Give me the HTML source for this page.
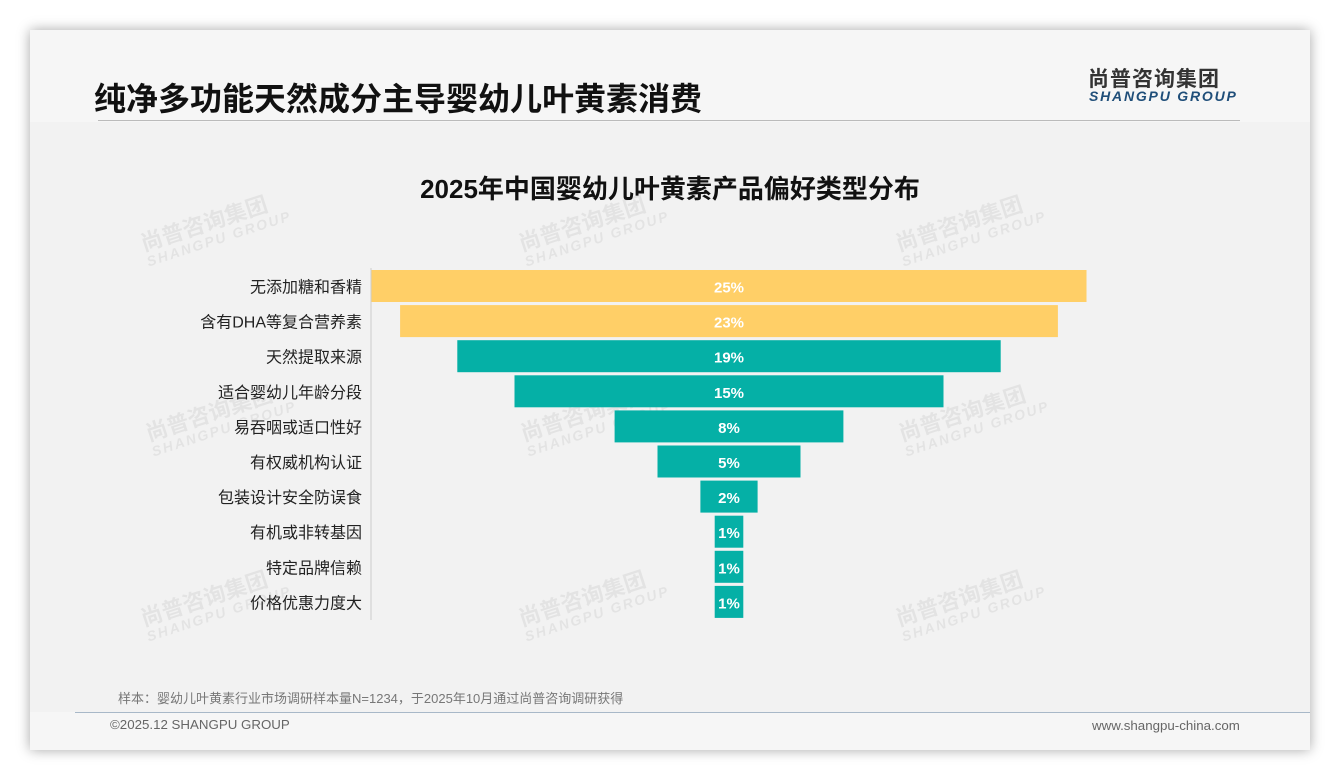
<!DOCTYPE html>
<html><head><meta charset="utf-8"><style>
body{margin:0;width:1340px;height:780px;background:#fff;overflow:hidden;font-family:"Liberation Sans","Noto Sans CJK SC",sans-serif;}
#card{position:absolute;left:30px;top:30px;width:1280px;height:720px;background:#f6f6f6;box-shadow:0 0 12px rgba(0,0,0,0.35);}
#inner{position:absolute;left:0;top:92px;width:1280px;height:590px;background:#f2f2f2;}
.t{position:absolute;white-space:nowrap;}
.wm{position:absolute;color:rgba(0,0,0,0.06);font-weight:bold;transform:rotate(-18deg);line-height:1;}
</style></head><body>
<div id="card">
<div id="inner"></div>
<div class="t" style="left:64px;top:44px;font-size:32px;font-weight:bold;color:#111;">纯净多功能天然成分主导婴幼儿叶黄素消费</div>
<div style="position:absolute;left:68px;top:90px;width:1142px;height:1px;background:#bbb;"></div>
<div class="t" style="left:1058px;top:33px;font-size:21px;font-weight:bold;color:#333;letter-spacing:1px;">尚普咨询集团</div>
<div class="t" style="left:1059px;top:58px;font-size:14px;font-weight:bold;font-style:italic;color:#1f4e79;letter-spacing:1.8px;">SHANGPU GROUP</div>
<div class="t" style="left:-30px;width:1340px;text-align:center;top:139px;font-size:26px;font-weight:bold;color:#111;">2025年中国婴幼儿叶黄素产品偏好类型分布</div>
<div class="t" style="left:88px;top:658px;font-size:13px;color:#777;">样本：婴幼儿叶黄素行业市场调研样本量N=1234，于2025年10月通过尚普咨询调研获得</div>
<div style="position:absolute;left:45px;top:682px;width:1235px;height:1px;background:#a8b8c8;"></div>
<div class="t" style="left:80px;top:687px;font-size:13.3px;color:#666;">©2025.12 SHANGPU GROUP</div>
<div class="t" style="left:1062px;top:688px;font-size:13.3px;color:#666;">www.shangpu-china.com</div>
</div>
<div id="wms"></div>
<svg id="chart" width="1340" height="780" style="position:absolute;left:0;top:0;"></svg>
<script>
const categories=["无添加糖和香精","含有DHA等复合营养素","天然提取来源","适合婴幼儿年龄分段","易吞咽或适口性好","有权威机构认证","包装设计安全防误食","有机或非转基因","特定品牌信赖","价格优惠力度大"];
const values=[25,23,19,15,8,5,2,1,1,1];
const highlight=[1,1,0,0,0,0,0,0,0,0];
const valueLabels=["25%","23%","19%","15%","8%","5%","2%","1%","1%","1%"];
const NS="http://www.w3.org/2000/svg";
const svg=document.getElementById('chart');
const cx=729,pxPer=28.6,top0=270,step=35.1,bh=32;
function xw(v){return v*pxPer;}
function yr(i){return top0+i*step;}
const wmPos=[[140,250],[518,250],[895,250],[145,440],[520,440],[898,440],[140,625],[518,625],[895,625]];
const wms=document.getElementById('wms');
wmPos.forEach(p=>{const d=document.createElement('div');d.className='wm';d.style.left=p[0]+'px';d.style.top=(p[1]-40)+'px';
d.innerHTML='<div style="font-size:22px">尚普咨询集团</div><div style="font-size:14px;letter-spacing:2px;font-style:italic">SHANGPU GROUP</div>';


wms.appendChild(d);});
const ax=document.createElementNS(NS,'line');
ax.setAttribute('x1',371);ax.setAttribute('x2',371);ax.setAttribute('y1',268);ax.setAttribute('y2',yr(categories.length)-1);
ax.setAttribute('stroke','#ccc');


svg.appendChild(ax);
categories.forEach((c,i)=>{
 const w=xw(values[i]);
 const r=document.createElementNS(NS,'rect');
 r.setAttribute('x',cx-w/2);r.setAttribute('y',yr(i));r.setAttribute('width',w);r.setAttribute('height',bh);
 r.setAttribute('fill',highlight[i]?'#FFCF67':'#05B0A6');
 
 
 svg.appendChild(r);
 const t=document.createElementNS(NS,'text');
 t.setAttribute('x',cx);t.setAttribute('y',yr(i)+bh/2+6.5);t.setAttribute('text-anchor','middle');
 t.setAttribute('font-size','15');t.setAttribute('font-weight','bold');t.setAttribute('fill','#fff');
 t.setAttribute('font-family','Liberation Sans, sans-serif');
 t.textContent=valueLabels[i];
 
 
 svg.appendChild(t);
 const l=document.createElementNS(NS,'text');
 l.setAttribute('x',362);l.setAttribute('y',yr(i)+bh/2+6.5);l.setAttribute('text-anchor','end');
 l.setAttribute('font-size','16');l.setAttribute('fill','#222');
 l.setAttribute('font-family','Liberation Sans, Noto Sans CJK SC, sans-serif');
 l.textContent=c;
 
 
 svg.appendChild(l);
});
</script>
</body></html>
